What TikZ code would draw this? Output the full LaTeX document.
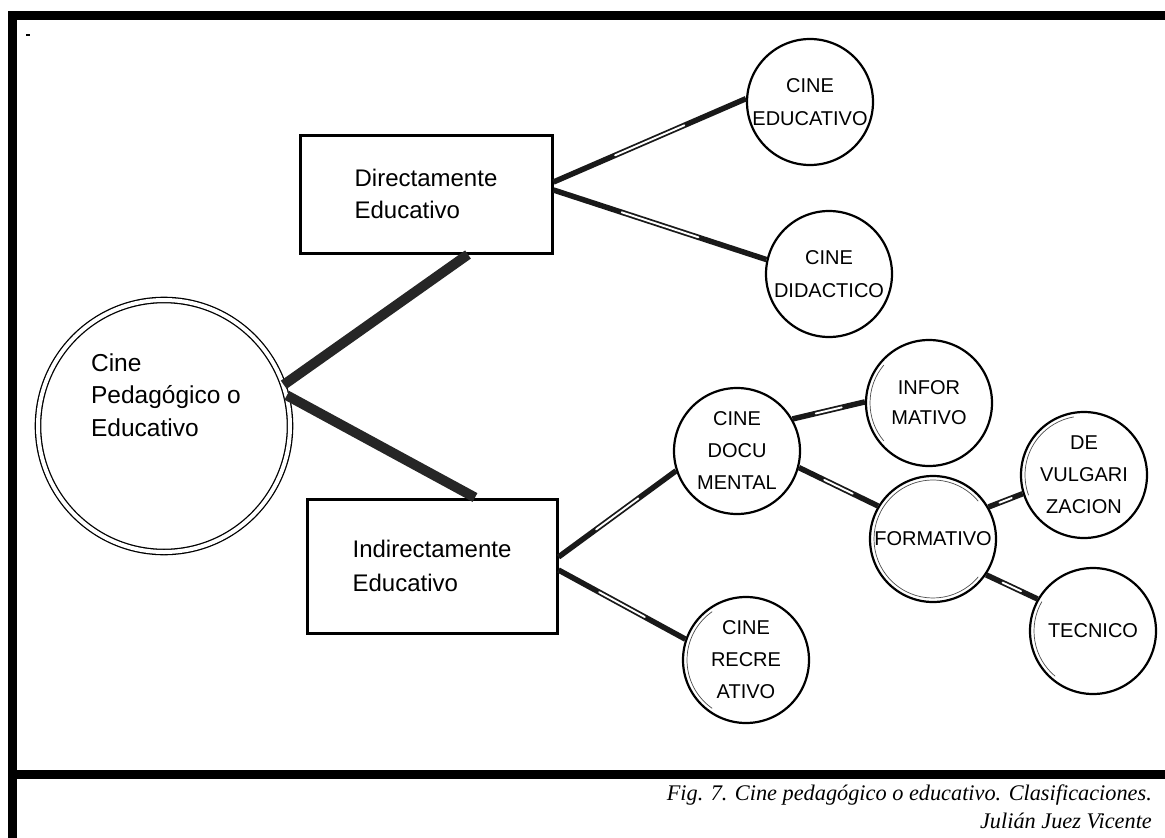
\documentclass[tikz,border=0pt]{standalone}
\usepackage{fontspec}
\setmainfont{Liberation Serif}
\newfontfamily\arialf{Liberation Sans}
\usetikzlibrary{calc}
\tikzset{
  bigc/.style={circle, draw=black, double=white, double distance=4pt, line width=1.3pt, minimum size=252pt, inner sep=0pt},
  rectbox/.style={rectangle, draw=black, line width=3pt, align=left, font=\arialf\fontsize{24}{32}\selectfont, inner sep=0pt},
  smallc/.style={circle, draw=black, line width=2.2pt, minimum size=126pt, inner sep=0pt, align=center, font=\arialf\fontsize{20}{33}\selectfont},
  bigtext/.style={font=\arialf\fontsize{24.5}{32.5}\selectfont, align=left, inner sep=0pt},
  thickconn/.style={line width=10pt, black!85},
  conn/.style={line width=5.5pt, black!90},
  stripe/.style={line width=1.9pt, white, line cap=round},
  inring/.style={line width=0.7pt, black!70},
  bar/.style={fill=black},
  caption/.style={font=\itshape\fontsize{22.3}{27}\selectfont, anchor=base east, inner sep=0pt},
}
\newcommand\cnx[2]{\draw[conn] (#1) -- (#2); \draw[stripe] ($(#1)!0.32!(#2)$) -- ($(#1)!0.68!(#2)$);}
\newcommand\inarc[3]{\draw[inring] ($(#1.center)+(#2:59)$) arc[start angle=#2, end angle=#3, radius=59];}
\begin{document}
\begin{tikzpicture}[x=1pt,y=-1pt]
\useasboundingbox (0,0) rectangle (1165,838);
% frame bars
\fill[bar] (8,11) rectangle (1165,20);
\fill[bar] (8,11) rectangle (17,838);
\fill[bar] (8,770) rectangle (1165,779);
\fill[bar] (26,34) rectangle (30,36);
% main nodes
\node[bigc] (big) at (164,426) {};
\node[bigtext] (bigtxt) at (166,395) {Cine\\Pedagógico o\\Educativo};
\node[rectbox, minimum width=252pt, minimum height=118pt] (D) at (426,194) {Directamente\\Educativo};
\node[rectbox, minimum width=250pt, minimum height=134pt, font=\arialf\fontsize{24}{34}\selectfont] (I) at (432,566) {Indirectamente\\Educativo};
% circles
\node[smallc] (ce) at (810,102) {CINE\\EDUCATIVO};
\node[smallc] (cd) at (829,274) {CINE\\DIDACTICO};
\node[smallc, font=\arialf\fontsize{20}{32}\selectfont] (cdoc) at (737,451) {CINE\\DOCU\\MENTAL};
\node[smallc, font=\arialf\fontsize{20}{32}\selectfont] (crec) at (746,660) {CINE\\RECRE\\ATIVO};
\node[smallc, font=\arialf\fontsize{20}{30}\selectfont] (cinf) at (929,403) {INFOR\\MATIVO};
\node[smallc] (cform) at (933,539) {FORMATIVO};
\node[smallc, font=\arialf\fontsize{20}{32}\selectfont] (cvul) at (1084,475) {DE\\VULGARI\\ZACION};
\node[smallc] (ctec) at (1093,631) {TECNICO};
% inner partial rings
\inarc{cform}{40}{320}
\inarc{crec}{125}{235}
\inarc{cinf}{140}{220}
\inarc{cvul}{160}{260}
\inarc{ctec}{130}{210}
% connection points on boxes
\coordinate (d1) at ([yshift=12pt]D.east);
\coordinate (d2) at ([yshift=4pt]D.east);
\coordinate (i1) at ([yshift=9pt]I.east);
\coordinate (i2) at ([yshift=-4pt]I.east);
\coordinate (dbot) at ([xshift=42pt]D.south);
\coordinate (itop) at ([xshift=43pt]I.north);
% thick connectors
\draw[thickconn] (big.19) -- (dbot);
\draw[thickconn] (big.14) -- (itop);
% striped connectors
\cnx{d1}{ce.177}
\cnx{d2}{cd.167}
\cnx{i1}{cdoc.198}
\cnx{i2}{crec.161}
\cnx{cdoc.30}{cinf.179}
\cnx{cdoc.345}{cform.149}
\cnx{cform.30}{cvul.197}
\cnx{cform.326}{ctec.150}
% caption
\node[caption] (cap1) at (1152,800) {Fig. 7. Cine pedagógico o educativo. Clasificaciones.};
\node[caption] (cap2) at (1152,828) {Julián Juez Vicente};
\end{tikzpicture}
\end{document}
